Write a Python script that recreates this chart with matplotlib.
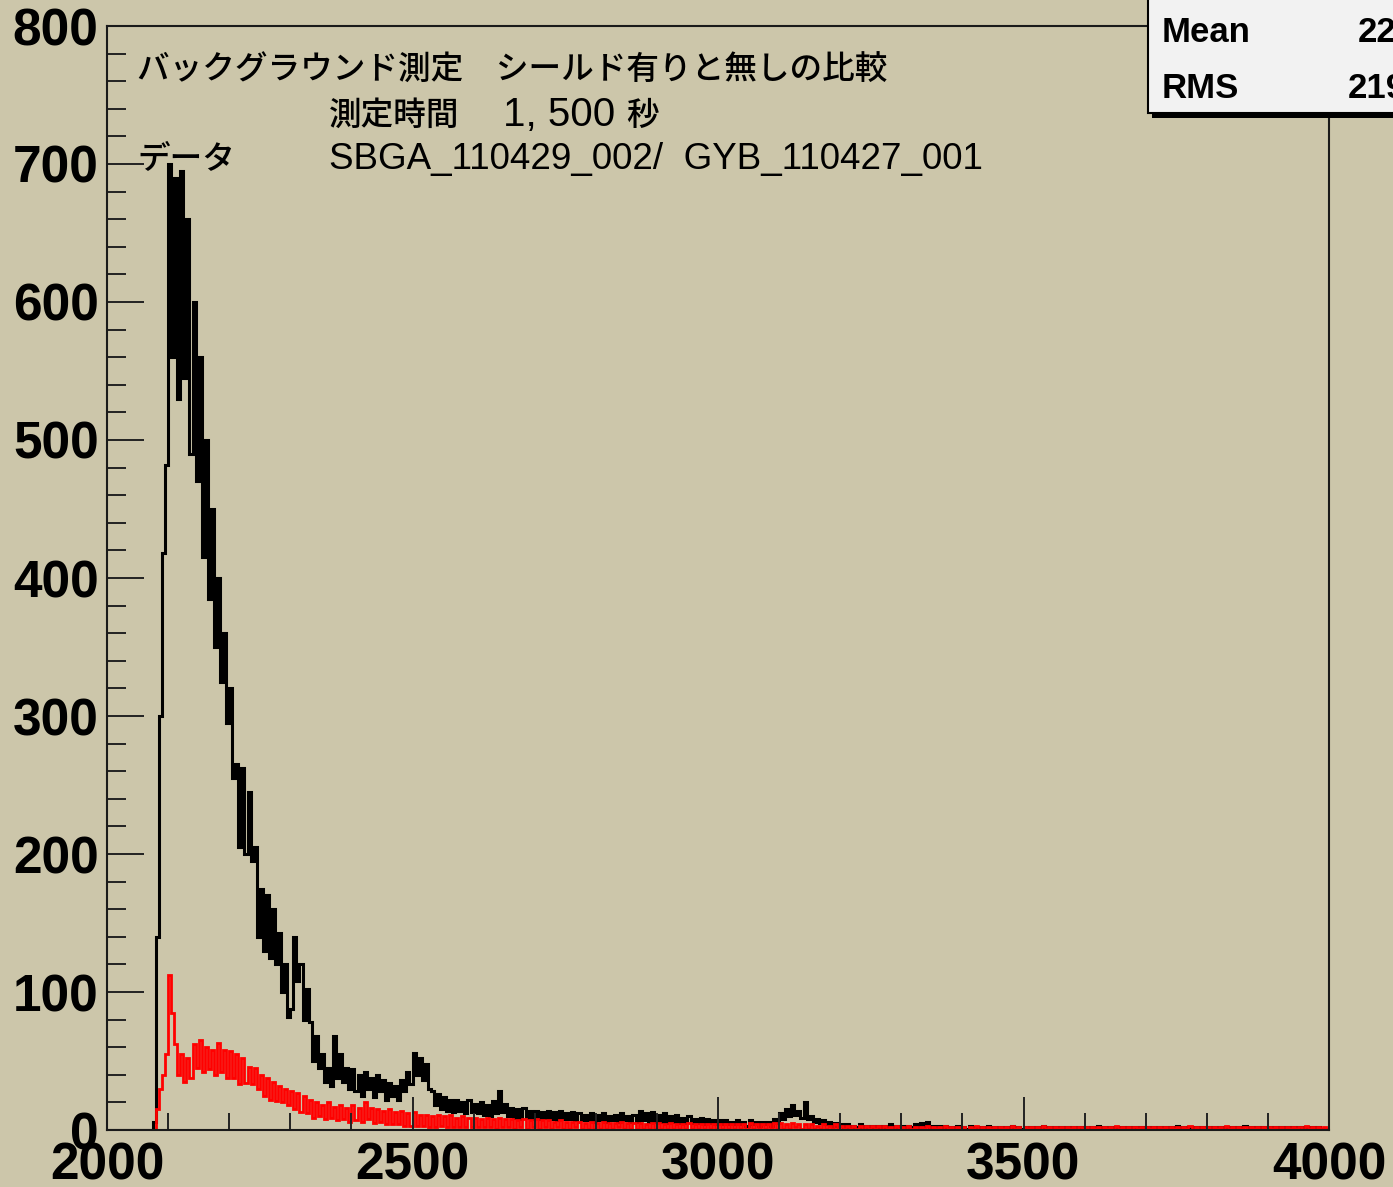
import numpy as np
import matplotlib
matplotlib.use("Agg")
import matplotlib.pyplot as plt
from matplotlib.patches import Rectangle
from matplotlib.ticker import MultipleLocator


plt.rcParams["font.family"] = ["Liberation Sans", "DejaVu Sans"]

# ------------------------------------------------------------
# histogram contents (5 channel bins, 2000 - 4000)
# ------------------------------------------------------------

x_min = 2000
x_max = 4000
bin_width = 5

# without shield (black)
black_counts = [
    0, 0, 0, 0, 0, 0, 0, 0, 0, 0, 0, 0, 0, 0, 0, 6, 140, 300, 418, 482,
    700, 560, 690, 530, 695, 545, 660, 490, 600, 470, 560, 415, 500, 385, 450, 350, 400, 325, 360, 295,
    320, 255, 265, 205, 262, 200, 245, 195, 205, 140, 175, 130, 170, 125, 160, 120, 143, 100, 120, 82,
    88, 140, 108, 120, 80, 102, 78, 50, 68, 45, 55, 35, 45, 32, 68, 38, 55, 35, 45, 30,
    44, 28, 40, 25, 42, 30, 38, 24, 40, 28, 36, 22, 34, 25, 32, 22, 36, 28, 42, 33,
    56, 40, 52, 36, 48, 30, 28, 18, 26, 15, 24, 14, 22, 13, 22, 14, 20, 12, 22, 13,
    19, 12, 20, 11, 18, 10, 21, 12, 28, 13, 19, 10, 16, 9, 15, 8, 16, 9, 14, 8,
    14, 8, 13, 9, 14, 8, 13, 7, 14, 8, 12, 8, 13, 7, 12, 7, 11, 7, 12, 6,
    11, 7, 12, 6, 10, 7, 11, 6, 12, 7, 10, 6, 11, 6, 14, 7, 12, 6, 13, 6,
    11, 6, 12, 5, 10, 6, 11, 5, 9, 5, 10, 5, 8, 5, 9, 4, 8, 5, 7, 4,
    7, 4, 7, 4, 6, 4, 7, 4, 6, 3, 7, 4, 6, 3, 6, 4, 6, 3, 8, 5,
    12, 8, 15, 10, 18, 11, 14, 9, 20, 8, 10, 6, 8, 5, 7, 4, 6, 3, 5, 3,
    4, 2, 4, 2, 3, 2, 4, 2, 3, 1, 3, 2, 3, 1, 3, 2, 4, 2, 3, 1,
    3, 2, 3, 2, 4, 2, 5, 3, 6, 2, 3, 2, 3, 1, 3, 2, 2, 1, 3, 1,
    2, 1, 3, 1, 2, 1, 2, 1, 3, 1, 2, 1, 2, 1, 2, 1, 3, 1, 2, 1,
    2, 1, 2, 1, 2, 1, 3, 1, 2, 1, 2, 1, 2, 1, 2, 1, 2, 1, 2, 1,
    2, 1, 2, 1, 3, 1, 2, 1, 2, 1, 2, 1, 2, 0, 2, 1, 2, 1, 2, 1,
    2, 1, 2, 1, 2, 0, 2, 1, 2, 1, 3, 1, 2, 1, 2, 0, 2, 1, 2, 1,
    2, 1, 2, 0, 2, 1, 2, 1, 2, 1, 2, 1, 3, 1, 2, 1, 2, 0, 2, 1,
    2, 1, 2, 1, 2, 0, 2, 1, 2, 1, 2, 1, 2, 1, 2, 1, 2, 1, 1, 1,
]

# with shield (red)
red_counts = [
    0, 0, 0, 0, 0, 0, 0, 0, 0, 0, 0, 0, 0, 0, 0, 0, 15, 30, 40, 55,
    112, 85, 62, 40, 55, 35, 52, 38, 62, 45, 65, 42, 60, 44, 58, 40, 63, 42, 58, 38,
    57, 38, 55, 33, 52, 34, 46, 33, 45, 30, 40, 25, 38, 22, 35, 21, 32, 20, 30, 18,
    28, 15, 27, 13, 25, 12, 22, 9, 20, 10, 18, 8, 20, 9, 17, 7, 18, 8, 16, 6,
    18, 7, 16, 6, 20, 8, 16, 5, 15, 6, 14, 4, 15, 4, 13, 4, 14, 3, 12, 3,
    13, 3, 11, 3, 11, 2, 10, 2, 11, 3, 10, 2, 11, 2, 9, 2, 10, 2, 9, 2,
    9, 2, 8, 2, 9, 2, 8, 1, 9, 2, 8, 2, 8, 1, 7, 2, 8, 1, 7, 2,
    8, 1, 7, 2, 7, 1, 6, 2, 7, 1, 6, 1, 6, 2, 6, 1, 5, 1, 6, 1,
    5, 1, 6, 1, 5, 1, 5, 2, 6, 1, 5, 1, 5, 1, 5, 1, 4, 1, 5, 1,
    5, 1, 4, 1, 5, 1, 4, 1, 4, 1, 5, 1, 4, 1, 4, 1, 4, 1, 4, 1,
    4, 1, 4, 1, 4, 1, 4, 1, 4, 1, 5, 1, 4, 1, 4, 1, 4, 1, 5, 1,
    5, 1, 4, 1, 5, 2, 4, 1, 4, 1, 4, 1, 3, 1, 4, 1, 3, 1, 4, 1,
    3, 1, 3, 1, 3, 1, 3, 0, 3, 1, 3, 1, 3, 0, 3, 1, 2, 0, 3, 1,
    2, 0, 3, 1, 2, 0, 2, 1, 3, 0, 2, 1, 2, 0, 3, 1, 2, 0, 2, 1,
    2, 0, 2, 1, 3, 0, 2, 0, 2, 1, 2, 0, 2, 1, 2, 0, 3, 1, 2, 0,
    2, 1, 2, 0, 2, 0, 3, 1, 2, 0, 2, 1, 2, 0, 2, 1, 2, 0, 2, 1,
    2, 0, 2, 1, 2, 0, 2, 1, 2, 0, 3, 1, 2, 0, 2, 0, 2, 1, 2, 0,
    2, 1, 2, 0, 2, 1, 2, 0, 2, 1, 2, 0, 2, 1, 3, 0, 2, 0, 2, 1,
    2, 0, 2, 1, 2, 0, 3, 1, 2, 0, 2, 1, 2, 0, 2, 1, 2, 0, 2, 1,
    2, 1, 2, 0, 2, 0, 2, 1, 2, 1, 2, 0, 3, 1, 2, 0, 2, 1, 2, 1,
]

title_line1 = "バックグラウンド測定\u3000シールド有りと無しの比較"
time_label = "測定時間"
time_value = "1, 500"
time_unit = "秒"
data_label = "データ"
data_files = "SBGA_110429_002/  GYB_110427_001"

stat_names = ["Mean", "RMS"]
stat_values = ["2236", "219.5"]


# ------------------------------------------------------------
# figure
# ------------------------------------------------------------

W, H = 1393, 1187
bg = "#ccc6aa"

fig = plt.figure(figsize=(W / 100, H / 100), dpi=100, facecolor=bg)
ax = fig.add_axes([107 / W, 57 / H, 1222 / W, 1104 / H])
ax.set_facecolor(bg)

edges = np.arange(x_min, x_max + bin_width, bin_width)

ax.stairs(black_counts, edges, color="black", linewidth=2.2, baseline=None)
ax.stairs(red_counts, edges, color="#ff0000", linewidth=2.0, baseline=None)

ax.set_xlim(x_min, x_max)
ax.set_ylim(0, 800)

ax.xaxis.set_major_locator(MultipleLocator(500))
ax.xaxis.set_minor_locator(MultipleLocator(100))
ax.yaxis.set_major_locator(MultipleLocator(100))
ax.yaxis.set_minor_locator(MultipleLocator(20))

ax.tick_params(axis="both", which="both", direction="in",
               top=False, right=False, color="#222222", width=1.4,
               labelsize=37)
ax.tick_params(axis="x", which="major", length=23.5, pad=8)
ax.tick_params(axis="x", which="minor", length=12)
ax.tick_params(axis="y", which="major", length=26.5, pad=6)
ax.tick_params(axis="y", which="minor", length=13.5)

for lab in ax.get_xticklabels() + ax.get_yticklabels():
    lab.set_fontweight("bold")

for sp in ax.spines.values():
    sp.set_linewidth(1.5)
    sp.set_color("#1a1a1a")


# ------------------------------------------------------------
# text
# ------------------------------------------------------------

jp = ["Noto Sans CJK JP", "DejaVu Sans"]
lat = ["Liberation Sans", "DejaVu Sans"]
fs_jp = 23.5
fs_lat = 26.5


def put(px, py, s, family, size):
    fig.text(px / W, 1 - py / H, s, family=family, fontsize=size,
             fontweight="medium", va="center", ha="left", zorder=6)


put(137, 70, title_line1, jp, fs_jp)
put(329, 115, time_label, jp, fs_jp)
put(503, 115, time_value, lat, 29)
put(626, 115, time_unit, jp, fs_jp)
put(137, 160, data_label, jp, fs_jp)
put(329, 160, data_files, lat, fs_lat)


# ------------------------------------------------------------
# stats box (cut by the figure edge)
# ------------------------------------------------------------

shadow = Rectangle((1152 / W, 1 - 118 / H), 300 / W, 130 / H,
                   transform=fig.transFigure, facecolor="black",
                   edgecolor="none", zorder=7)
box = Rectangle((1148 / W, 1 - 113 / H), 300 / W, 130 / H,
                transform=fig.transFigure, facecolor="#f2f2f2",
                edgecolor="black", linewidth=1.5, zorder=8)
fig.add_artist(shadow)
fig.add_artist(box)

for i, (name, val) in enumerate(zip(stat_names, stat_values)):
    y = 1 - (33 + 55 * i) / H
    fig.text(1162 / W, y, name, fontsize=25, fontweight="bold",
             va="center", ha="left", zorder=9)
    fig.text(1435 / W, y, val, fontsize=25, fontweight="bold",
             va="center", ha="right", zorder=9)

fig.savefig("out.png", dpi=100, facecolor=bg)
